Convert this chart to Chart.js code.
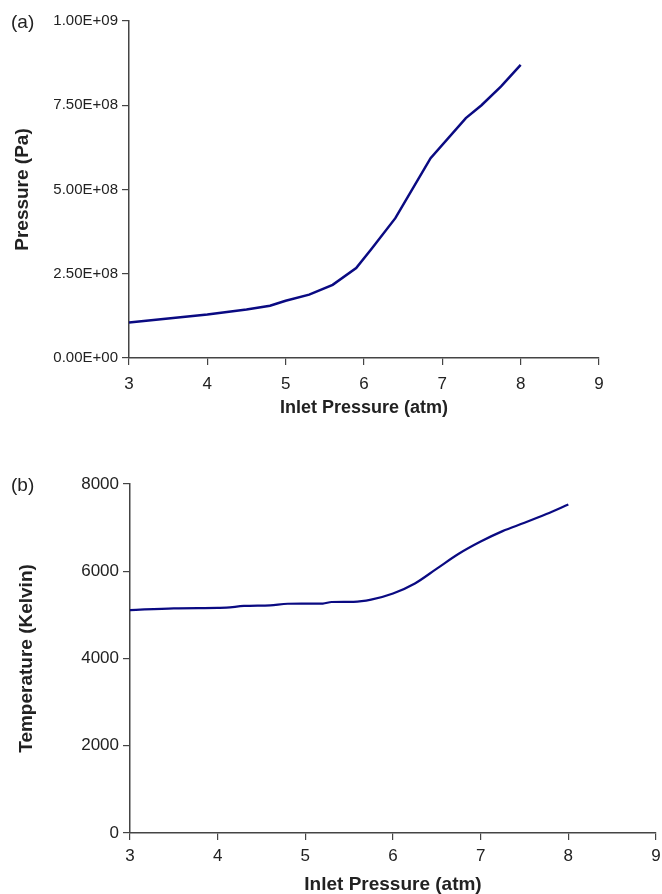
<!DOCTYPE html>
<html>
<head>
<meta charset="utf-8">
<script src="https://cdn.jsdelivr.net/npm/chart.js@4/dist/chart.umd.min.js"></script>
<style>
  body { margin: 0; background: #fff; overflow: hidden; }
  #page { position: relative; width: 662px; height: 894px; overflow: hidden; font-family: "Liberation Sans", Arial, sans-serif; }
  .panel { position: absolute; left: 0; }
  .tag { position: absolute; left: 11px; font-size: 19px; color: #222; }
</style>
</head>
<body>
<div id="page">
  <div class="panel" style="top:0"><canvas id="chartA" width="662" height="440"></canvas></div>
  <div class="panel" style="top:440px"><canvas id="chartB" width="672" height="454"></canvas></div>
  <div class="tag" style="top:11px">(a)</div>
  <div class="tag" style="top:474px">(b)</div>
</div>
<script>
// Données
const pressureX  = [3, 3.5, 4, 4.5, 4.8, 5, 5.3, 5.6, 5.9, 6.1, 6.4, 6.85, 7.3, 7.5, 7.75, 8];
const pressurePa = [1.05e8, 1.17e8, 1.29e8, 1.44e8, 1.55e8, 1.70e8, 1.88e8, 2.17e8, 2.67e8, 3.25e8, 4.15e8, 5.93e8, 7.12e8, 7.50e8, 8.06e8, 8.70e8];

const tempX = [3, 3.5, 4, 4.1, 4.3, 4.6, 4.8, 5.2, 5.3, 5.55, 5.75, 6, 6.25, 6.5, 6.75, 7, 7.25, 7.5, 7.75, 8];
const tempK = [5110, 5150, 5160, 5165, 5205, 5220, 5255, 5260, 5295, 5300, 5350, 5490, 5720, 6060, 6400, 6680, 6920, 7110, 7310, 7530];

const xTicks = [3, 4, 5, 6, 7, 8, 9];
const pressureTicks = [0, 2.5e8, 5e8, 7.5e8, 1e9];
const tempTicks = [0, 2000, 4000, 6000, 8000];

const LINE_COLOR = '#0a0a82';
const AXIS_COLOR = '#444';
const TEXT_COLOR = '#222';
const FONT = '"Liberation Sans", Arial, sans-serif';

// Format type Excel : 1.00E+09
function sciLabel(v) {
    const parts = v.toExponential(2).toUpperCase().split('E');
    const exp = parseInt(parts[1], 10);
    const sign = exp < 0 ? '-' : '+';
    return parts[0] + 'E' + sign + String(Math.abs(exp)).padStart(2, '0');
}

function toPoints(xs, ys) {
    return xs.map((x, i) => ({ x: x, y: ys[i] }));
}

function axisBase() {
    return {
        grid: { drawOnChartArea: false, drawTicks: true, tickLength: 7, color: AXIS_COLOR, lineWidth: 1.2 },
        border: { display: true, color: AXIS_COLOR, width: 1.5 }
    };
}

function makeChart(canvasId, xs, ys, opts) {
    const ctx = document.getElementById(canvasId).getContext('2d');
    return new Chart(ctx, {
        type: 'line',
        data: {
            datasets: [{
                data: toPoints(xs, ys),
                borderColor: LINE_COLOR,
                borderWidth: opts.lineWidth,
                pointRadius: 0,
                tension: opts.tension,
                cubicInterpolationMode: opts.mode,
                fill: false
            }]
        },
        options: {
            responsive: false,
            animation: false,
            layout: { padding: opts.padding },
            plugins: { legend: { display: false }, tooltip: { enabled: false } },
            scales: {
                x: Object.assign(axisBase(), {
                    type: 'linear',
                    min: 3,
                    max: 9,
                    afterBuildTicks: s => { s.ticks = xTicks.map(v => ({ value: v })); },
                    afterFit: s => { s.height = opts.xHeight; },
                    ticks: { color: TEXT_COLOR, font: { family: FONT, size: 17 }, padding: opts.xTickPad, maxRotation: 0 },
                    title: { display: true, text: 'Inlet Pressure (atm)', color: TEXT_COLOR,
                             font: { family: FONT, size: opts.xTitleSize, weight: 'bold', lineHeight: 1 },
                             padding: { top: 0, bottom: opts.xTitlePad } }
                }),
                y: Object.assign(axisBase(), {
                    type: 'linear',
                    min: opts.yMin,
                    max: opts.yMax,
                    afterBuildTicks: s => { s.ticks = opts.yTicks.map(v => ({ value: v })); },
                    afterFit: s => { s.width = opts.yWidth; },
                    ticks: { color: TEXT_COLOR, font: { family: FONT, size: opts.yTickSize }, padding: 4, callback: opts.yLabel },
                    title: { display: true, text: opts.yTitle, color: TEXT_COLOR,
                             font: { family: FONT, size: 19, weight: 'bold', lineHeight: 1.2 },
                             padding: { top: opts.yTitlePad, bottom: 0 } }
                })
            }
        }
    });
}

// (a) Pression
makeChart('chartA', pressureX, pressurePa, {
    tension: 0, mode: 'default', lineWidth: 2.5,
    padding: { top: 21, right: 63, left: 0, bottom: 0 },
    xHeight: 82, xTickPad: 9, xTitleSize: 18, xTitlePad: 23,
    yMin: 0, yMax: 1e9, yTicks: pressureTicks, yWidth: 129, yTickSize: 15,
    yLabel: v => sciLabel(v), yTitle: 'Pressure (Pa)', yTitlePad: 11
});

// (b) Température
makeChart('chartB', tempX, tempK, {
    tension: 0.4, mode: 'monotone', lineWidth: 2.2,
    padding: { top: 44, right: 16, left: 0, bottom: 0 },
    xHeight: 61, xTickPad: 6, xTitleSize: 19, xTitlePad: 0,
    yMin: 0, yMax: 8000, yTicks: tempTicks, yWidth: 130, yTickSize: 17,
    yLabel: v => String(v), yTitle: 'Temperature (Kelvin)', yTitlePad: 15
});
</script>
</body>
</html>
